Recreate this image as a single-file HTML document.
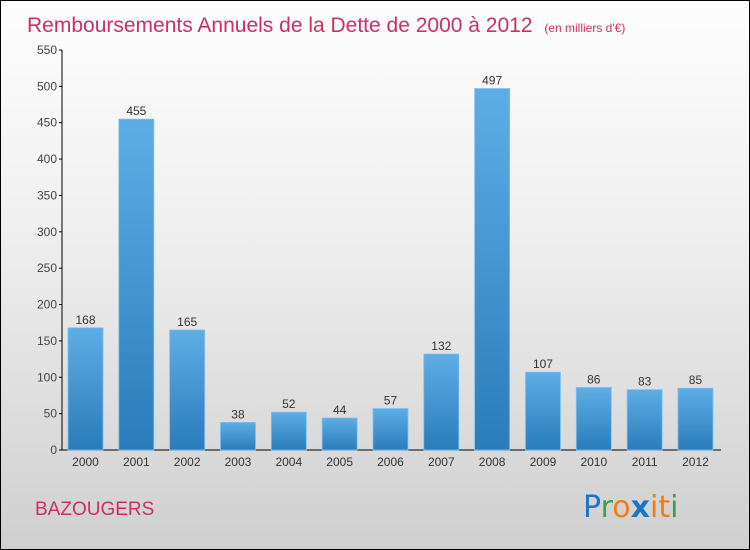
<!DOCTYPE html>
<html><head><meta charset="utf-8"><style>
body{margin:0}
#c{position:relative;width:748px;height:548px;border:1px solid #000;background:linear-gradient(#fdfdfd,#f0f0f0 40%,#cfcfcf);font-family:"Liberation Sans",sans-serif;overflow:hidden}
</style></head><body>
<div id="c">
<svg width="748" height="548">
<defs><linearGradient id="g" x1="0" y1="0" x2="0" y2="1"><stop offset="0" stop-color="#5dade6"/><stop offset="1" stop-color="#2a7cba"/></linearGradient></defs>
<text x="26" y="31" font-size="21" fill="#cc2f62">Remboursements Annuels de la Dette de 2000 à 2012 <tspan font-size="12" dx="6">(en milliers d'€)</tspan></text>
<text x="34" y="514" font-size="19" fill="#cc2f62">BAZOUGERS</text>
<g font-size="30" font-family="'DejaVu Sans',sans-serif">
<text x="582" y="516" fill="#1a75c9">P<tspan fill="#3aa04a">r</tspan><tspan fill="#f07d12">o</tspan><tspan fill="#1a75c9" font-weight="bold">x</tspan><tspan fill="#f07d12">i</tspan><tspan fill="#f07d12">t</tspan><tspan fill="#3aa04a">i</tspan></text></g>
<g id="plot"></g>
</svg>
</div>
<script>
const years=["2000","2001","2002","2003","2004","2005","2006","2007","2008","2009","2010","2011","2012"];
const values=[168,455,165,38,52,44,57,132,497,107,86,83,85];
const ticks=[0,50,100,150,200,250,300,350,400,450,500,550];
const ns="http://www.w3.org/2000/svg";
const g=document.getElementById('plot');
const y=v=>449-v*400/550;
const x=i=>67+i*50.83;
function mk(t,a,p){const e=document.createElementNS(ns,t);for(const k in a)e.setAttribute(k,a[k]);(p||g).appendChild(e);return e;}
const ax=mk('line',{x1:61,y1:49,x2:61,y2:449,stroke:'#000'});


const bx=mk('line',{x1:61,y1:449,x2:720,y2:449,stroke:'#000'});


ticks.forEach(t=>{
 const l=mk('line',{x1:58,x2:61,y1:y(t),y2:y(t),stroke:'#000'});
 
 
 const tx=mk('text',{x:56,y:y(t)+4,'text-anchor':'end','font-size':12,fill:'#444'});tx.textContent=t;
 
 
});
values.forEach((v,i)=>{
 const r=mk('rect',{x:x(i),y:y(v),width:35,height:449-y(v),fill:'url(#g)',stroke:'#7cc0f0','stroke-width':0.8});
 
 
 const t=mk('text',{x:x(i)+17.5,y:y(v)-4,'text-anchor':'middle','font-size':12,fill:'#333'});t.textContent=v;
 
 
 const yl=mk('text',{x:x(i)+17.5,y:465,'text-anchor':'middle','font-size':12,fill:'#333'});yl.textContent=years[i];
 
 
});
</script>
</body></html>
